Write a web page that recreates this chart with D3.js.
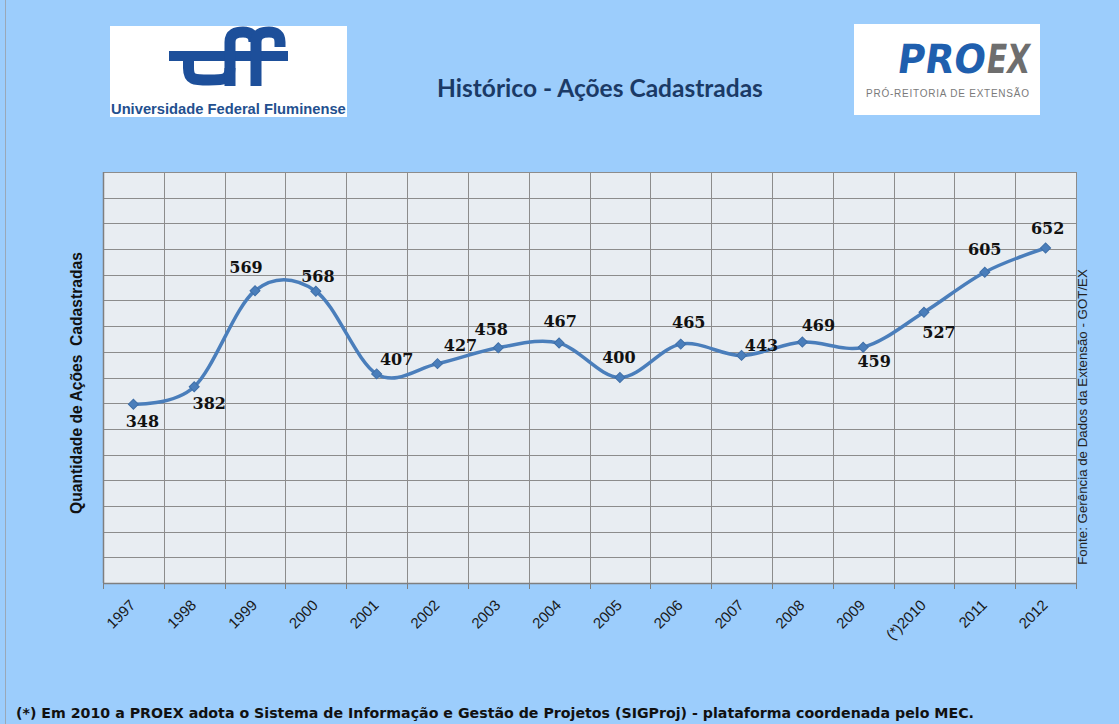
<!DOCTYPE html>
<html>
<head>
<meta charset="utf-8">
<script src="https://cdn.jsdelivr.net/npm/d3@7"></script>
<style>
html,body{margin:0;padding:0;background:#9ccdfc;}
svg{display:block;}
</style>
</head>
<body>
<svg id="chart" width="1119" height="724"></svg>
<script>
// ---- data ----
const years = ["1997","1998","1999","2000","2001","2002","2003","2004","2005","2006","2007","2008","2009","(*)2010","2011","2012"];
const acoes = [348,382,569,568,407,427,458,467,400,465,443,469,459,527,605,652];
const gridValues = [0,50,100,150,200,250,300,350,400,450,500,550,600,650,700,750,800];
// label placement (offset of text centre from the point), layout only
const labelOffsets = [[9,17],[15,17],[-9,-23],[2,-15],[20,-14],[23,-18],[-7,-18],[1,-22],[-1,-20],[8,-22],[20,-10],[16,-17],[11,14],[15,20],[0,-23],[2,-20]];

const titleText = "Histórico - Ações Cadastradas";
const yTitle = "Quantidade de Ações  Cadastradas";
const sourceText = "Fonte: Gerência de Dados da Extensão - GOT/EX";
const footText = "(*) Em 2010 a PROEX adota o Sistema de Informação e Gestão de Projetos (SIGProj) - plataforma coordenada pelo MEC.";

const svg = d3.select("#chart");
const W = 1119, H = 724;
const plot = {left:103, right:1076, top:172, bottom:583};

function fit(sel, width){
  const n = sel.node();
  const len = n.getComputedTextLength();
  const fs = parseFloat(sel.attr("font-size"));
  sel.attr("font-size", (fs*width/len).toFixed(2));
}

// background
svg.append("rect").attr("width",W).attr("height",H).attr("fill","#9ccdfc");
svg.append("line").attr("x1",5.5).attr("x2",5.5).attr("y1",0).attr("y2",H).attr("stroke","#9aa8b8").attr("stroke-width",1);

// ---- logos ----
// UFF
const uff = svg.append("g");
uff.append("rect").attr("x",110).attr("y",26).attr("width",237).attr("height",91).attr("fill","#ffffff");
const uffBlue = "#1d4f9a";
uff.append("rect").attr("x",169).attr("y",51).attr("width",119).attr("height",10).attr("fill",uffBlue);
uff.append("path").attr("d","M188.5,56 V68 C188.5,80 194,80 209,80 C224,80 230,80 230,68").attr("fill","none").attr("stroke",uffBlue).attr("stroke-width",11);
uff.append("path").attr("d","M230,86 V42 C230,34 236,32 243,32 C250,32 254,35 254,42").attr("fill","none").attr("stroke",uffBlue).attr("stroke-width",11);
uff.append("path").attr("d","M256,86 V42 C256,34 262,32 269,32 C276,32 280,35 280,42 V47").attr("fill","none").attr("stroke",uffBlue).attr("stroke-width",11);
const uffTxt = uff.append("text").attr("x",111).attr("y",113.5).attr("font-family","Liberation Sans, Arial, sans-serif")
  .attr("font-weight","bold").attr("font-size",14).attr("fill","#23508f").text("Universidade Federal Fluminense");
fit(uffTxt, 235);

// PROEX
const px = svg.append("g");
px.append("rect").attr("x",854).attr("y",24).attr("width",186).attr("height",91).attr("fill","#ffffff");
px.append("text").attr("x",0).attr("y",0).attr("transform","translate(896,73) skewX(-8)").attr("font-family","DejaVu Sans, sans-serif")
  .attr("font-weight","bold").attr("font-size",40).attr("fill","#1f5fae")
  .attr("textLength",88).attr("lengthAdjust","spacingAndGlyphs").text("PRO");
px.append("text").attr("x",0).attr("y",0).attr("transform","translate(985,73) skewX(-8)").attr("font-family","DejaVu Sans, sans-serif")
  .attr("font-weight","bold").attr("font-size",40).attr("fill","#6e6e6e")
  .attr("textLength",43).attr("lengthAdjust","spacingAndGlyphs").text("EX");
px.append("text").attr("x",866).attr("y",97).attr("font-family","Liberation Sans, Arial, sans-serif")
  .attr("font-size",10).attr("fill","#7a7a7a")
  .attr("textLength",163).attr("lengthAdjust","spacing").text("PRÓ-REITORIA DE EXTENSÃO");

// title
const title = svg.append("text").attr("x",600).attr("y",97).attr("text-anchor","middle")
  .attr("font-family","Lato, 'Open Sans', sans-serif").attr("font-weight","bold").attr("font-size",22)
  .attr("fill","#1b3a66").text(titleText);
fit(title, 326);

// ---- plot ----
const x = d3.scaleBand().domain(years).range([plot.left, plot.right]);
const y = d3.scaleLinear().domain([0,800]).range([plot.bottom, plot.top]);
const cx = d => x(d) + x.bandwidth()/2;

svg.append("rect").attr("x",plot.left).attr("y",plot.top).attr("width",plot.right-plot.left)
  .attr("height",plot.bottom-plot.top).attr("fill","#e8edf2");

// horizontal grid
svg.append("g").selectAll("line").data(gridValues).join("line")
  .attr("x1",plot.left).attr("x2",plot.right)
  .attr("y1",d=>Math.round(y(d))+0.5).attr("y2",d=>Math.round(y(d))+0.5)
  .attr("stroke","#8c8c8c").attr("stroke-width",1);
// vertical grid
const bounds = years.map(d=>x(d)).concat([plot.right]);
svg.append("g").selectAll("line").data(bounds).join("line")
  .attr("x1",d=>Math.round(d)+0.5).attr("x2",d=>Math.round(d)+0.5)
  .attr("y1",plot.top).attr("y2",plot.bottom)
  .attr("stroke","#8c8c8c").attr("stroke-width",1);
// x tick marks
svg.append("g").selectAll("line").data(bounds).join("line")
  .attr("x1",d=>Math.round(d)+0.5).attr("x2",d=>Math.round(d)+0.5)
  .attr("y1",plot.bottom).attr("y2",plot.bottom+6)
  .attr("stroke","#7f7f7f").attr("stroke-width",1);
// axis lines
svg.append("line").attr("x1",plot.left+0.5).attr("x2",plot.left+0.5).attr("y1",plot.top).attr("y2",plot.bottom)
  .attr("stroke","#7f7f7f").attr("stroke-width",1.5);
svg.append("line").attr("x1",plot.left).attr("x2",plot.right+1).attr("y1",plot.bottom+0.5).attr("y2",plot.bottom+0.5)
  .attr("stroke","#7f7f7f").attr("stroke-width",1.5);

// x axis labels
const xAxis = d3.axisBottom(x).tickSize(0).tickSizeOuter(0);
const gx = svg.append("g").attr("transform",`translate(0,${plot.bottom})`).call(xAxis);
gx.select(".domain").remove();
gx.selectAll("text")
  .attr("font-family","Liberation Sans, Arial, sans-serif").attr("font-size",15).attr("fill","#1a1a1a")
  .attr("text-anchor","end").attr("x",0).attr("y",0).attr("dy",0)
  .attr("transform","translate(3,23) rotate(-45)");

// line
const pts = years.map((d,i)=>[cx(d), y(acoes[i])]);
const line = d3.line().curve(d3.curveCardinal.tension(0));
svg.append("path").attr("d",line(pts)).attr("fill","none").attr("stroke","#4a7ebb")
  .attr("stroke-width",3.5).attr("stroke-linejoin","round").attr("stroke-linecap","round");

// markers
svg.append("g").selectAll("path").data(pts).join("path")
  .attr("d",d3.symbol(d3.symbolSquare,50)())
  .attr("transform",d=>`translate(${d[0]},${d[1]}) rotate(45)`)
  .attr("fill","#4a7ebb").attr("stroke","#3f6fa8").attr("stroke-width",1);

// data labels
svg.append("g").selectAll("text").data(pts).join("text")
  .attr("x",(d,i)=>d[0]+labelOffsets[i][0]).attr("y",(d,i)=>d[1]+labelOffsets[i][1])
  .attr("text-anchor","middle").attr("dominant-baseline","central")
  .attr("font-family","DejaVu Serif, serif").attr("font-weight","bold").attr("font-size",16)
  .attr("fill","#111111").text((d,i)=>acoes[i]);

// y title
const yt = svg.append("text").attr("transform","translate(82,383) rotate(-90)").attr("text-anchor","middle")
  .attr("font-family","Liberation Sans, Arial, sans-serif").attr("font-weight","bold").attr("font-size",13)
  .attr("fill","#111111").attr("xml:space","preserve").style("white-space","pre").text(yTitle);
fit(yt, 262);

// source note
const src = svg.append("text").attr("transform","translate(1087,417) rotate(-90)").attr("text-anchor","middle")
  .attr("font-family","Liberation Sans, Arial, sans-serif").attr("font-size",12)
  .attr("fill","#222222").text(sourceText);
fit(src, 296);

// footnote
const foot = svg.append("text").attr("x",16).attr("y",718)
  .attr("font-family","DejaVu Sans, Verdana, sans-serif").attr("font-weight","bold").attr("font-size",13)
  .attr("fill","#111111").text(footText);
fit(foot, 958);
</script>
</body>
</html>
